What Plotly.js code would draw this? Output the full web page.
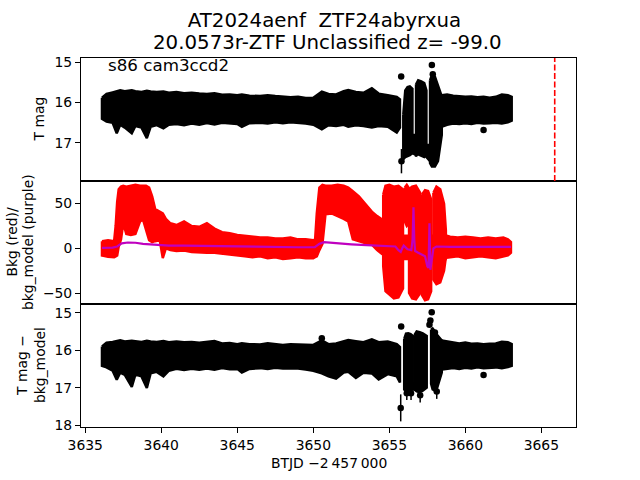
<!DOCTYPE html>
<html>
<head>
<meta charset="utf-8">
<script src="https://cdn.plot.ly/plotly-3.0.1.min.js"></script>
<style>html,body{margin:0;padding:0;background:#fff;}</style>
</head>
<body>
<div id="chart" style="width:640px;height:480px;"></div>
<script>
// ---------- DATA ----------
// Time grid (BTJD - 2457000) of the first calm stretch of the light curve
const bandT = [3636.1, 3636.4, 3636.8, 3637.07, 3637.3, 3637.6, 3638.06, 3638.3, 3638.7, 3639.05, 3639.3, 3639.7, 3640.14, 3640.5, 3641.0, 3641.5, 3642.0, 3642.5, 3643.0, 3643.5, 3644.0, 3644.5, 3645.0, 3645.3, 3645.8, 3646.5, 3647.0, 3647.5, 3648.0, 3648.5, 3649.0, 3649.5, 3650.0, 3650.56, 3651.0, 3651.5, 3652.0, 3652.3, 3652.8, 3653.3, 3653.85, 3654.3, 3654.9, 3655.49, 3655.7];
// Panel 1: T mag band edges (bright edge / faint edge)
const p1Top = [15.88, 15.79, 15.75, 15.72, 15.70, 15.72, 15.70, 15.72, 15.74, 15.71, 15.73, 15.74, 15.73, 15.76, 15.74, 15.77, 15.76, 15.78, 15.79, 15.77, 15.81, 15.80, 15.82, 15.80, 15.83, 15.84, 15.82, 15.84, 15.86, 15.87, 15.86, 15.89, 15.88, 15.73, 15.79, 15.80, 15.72, 15.69, 15.74, 15.76, 15.65, 15.78, 15.82, 15.86, 15.92];
const p1Bot = [16.40, 16.47, 16.50, 16.76, 16.55, 16.62, 16.76, 16.58, 16.62, 16.88, 16.60, 16.56, 16.64, 16.55, 16.53, 16.56, 16.52, 16.55, 16.51, 16.54, 16.50, 16.52, 16.53, 16.60, 16.51, 16.50, 16.52, 16.49, 16.51, 16.49, 16.50, 16.52, 16.55, 16.66, 16.56, 16.58, 16.55, 16.60, 16.56, 16.58, 16.62, 16.58, 16.60, 16.74, 16.62];
// Panel 3: T mag - bkg_model band edges
const p3Top = [15.90, 15.80, 15.78, 15.76, 15.74, 15.77, 15.75, 15.76, 15.78, 15.75, 15.77, 15.78, 15.76, 15.79, 15.77, 15.79, 15.78, 15.80, 15.79, 15.76, 15.82, 15.81, 15.84, 15.82, 15.84, 15.85, 15.82, 15.84, 15.86, 15.84, 15.85, 15.87, 15.86, 15.74, 15.84, 15.82, 15.76, 15.73, 15.76, 15.79, 15.71, 15.79, 15.77, 15.84, 15.92];
const p3Bot = [16.42, 16.46, 16.55, 16.79, 16.60, 16.66, 16.98, 16.65, 16.70, 17.01, 16.62, 16.58, 16.70, 16.55, 16.50, 16.53, 16.50, 16.52, 16.49, 16.52, 16.48, 16.51, 16.50, 16.60, 16.50, 16.48, 16.50, 16.47, 16.49, 16.48, 16.49, 16.52, 16.55, 16.62, 16.70, 16.76, 16.60, 16.58, 16.74, 16.60, 16.62, 16.78, 16.64, 16.70, 16.86];

// Second calm stretch (after the disturbed interval)
const bandBT = [3658.45, 3658.8, 3659.2, 3659.6, 3660.0, 3660.4, 3660.8, 3661.2, 3661.6, 3662.0, 3662.4, 3662.8, 3663.05];
const p1TopB = [15.82, 15.80, 15.83, 15.84, 15.86, 15.85, 15.87, 15.86, 15.88, 15.86, 15.80, 15.82, 15.86];
const p1BotB = [16.60, 16.55, 16.52, 16.53, 16.51, 16.53, 16.50, 16.52, 16.51, 16.50, 16.52, 16.49, 16.45];
const p3TopB = [15.74, 15.76, 15.80, 15.82, 15.80, 15.83, 15.82, 15.84, 15.83, 15.82, 15.78, 15.79, 15.84];
const p3BotB = [16.52, 16.50, 16.48, 16.50, 16.47, 16.49, 16.46, 16.48, 16.47, 16.46, 16.48, 16.45, 16.42];

// Disturbed interval, panel 1 (strips of points)
const p1StripT   = [[3655.92, 3656.05, 3656.2, 3656.35, 3656.52], [3656.52, 3656.76], [3656.76, 3656.9, 3657.1, 3657.3, 3657.44], [3657.44, 3657.68], [3657.68, 3657.8, 3658.0, 3658.2, 3658.45]];
const p1StripTop = [[16.3, 15.7, 15.62, 15.6, 15.66], [16.8, 16.8], [15.55, 15.45, 15.48, 15.52, 15.7], [17.05, 17.05], [15.45, 15.33, 15.36, 15.6, 15.85]];
const p1StripBot = [[17.4, 17.35, 17.32, 17.3, 17.25], [17.25, 17.3], [17.3, 17.28, 17.32, 17.35, 17.3], [17.35, 17.45], [17.5, 17.58, 17.58, 17.45, 16.8]];
const p1PtT = [3655.78, 3657.8, 3657.86, 3661.2];
const p1PtM = [15.36, 15.07, 15.3, 16.68];
const p1ErrT = [3655.8];
const p1ErrM = [17.45];
const p1ErrE = [0.3];

// Disturbed interval, panel 3
const p3StripT   = [[3655.98, 3656.1, 3656.25, 3656.4, 3656.54], [3656.54, 3656.65], [3656.65, 3656.8, 3657.0, 3657.2, 3657.46], [3657.75, 3657.85, 3658.0, 3658.15, 3658.45]];
const p3StripTop = [[15.7, 15.56, 15.55, 15.57, 15.62], [16.9, 16.9], [15.6, 15.5, 15.52, 15.55, 15.62], [15.45, 15.42, 15.5, 15.6, 15.74]];
const p3StripBot = [[17.05, 17.1, 17.08, 17.1, 17.0], [17.05, 17.05], [17.05, 17.1, 17.12, 17.08, 17.0], [16.9, 17.05, 17.08, 17.0, 16.6]];
const p3PtT = [3655.78, 3657.79, 3657.64, 3657.7, 3658.0, 3661.2, 3650.56];
const p3PtM = [15.37, 14.99, 15.32, 15.21, 15.53, 16.66, 15.68];
const p3ErrT = [3655.75, 3656.15, 3656.43, 3657.03, 3658.12];
const p3ErrM = [17.54, 17.15, 17.15, 17.2, 17.1];
const p3ErrE = [0.36, 0.18, 0.18, 0.2, 0.2];

// Panel 2: background flux (red) envelope
const bkgT   = [3636.1, 3636.5, 3636.9, 3637.0, 3637.1, 3637.2, 3637.35, 3637.5, 3637.7, 3638.0, 3638.3, 3638.6, 3638.8, 3639.0, 3639.2, 3639.4, 3639.6, 3639.9, 3640.1, 3640.3, 3640.6, 3641.0, 3641.5, 3642.0, 3642.5, 3643.0, 3643.5, 3644.0, 3644.5, 3645.0, 3645.5, 3646.0, 3646.5, 3647.0, 3647.5, 3648.0, 3648.5, 3649.0, 3649.5, 3650.0, 3650.12, 3650.23, 3650.4, 3650.6, 3650.8, 3651.2, 3651.6, 3652.0, 3652.3, 3652.6, 3653.0, 3653.4, 3653.85, 3654.2, 3654.5, 3654.7];
const bkgTop = [8, 9, 8, 25, 52, 66, 69, 70, 69, 70, 71, 70, 70, 70, 68, 58, 44, 41, 39, 33, 28, 26, 30, 25, 24, 28, 22, 18, 17, 15, 14, 13, 12, 12, 11, 11, 12, 10, 10, 9, 10, 39, 68, 71, 70, 70, 71, 70, 68, 64, 58, 50, 41, 36, 32, 30];
const bkgBot = [-8, -9.5, -10, -9, -8, 2, 10, 28, 16, 15, 16, 30, 32, 20, 9, 7, 8, 9, -11, 0, -2, -3, -2.5, -4, -4.5, -5, -5, -6, -7.5, -8, -9, -10, -9, -11, -10, -12, -11, -10, -11, -11, -10, -9, -2, 5, 38, 39, 36, 33, 30, 10, 8, 6, 4, -2, -6, -4];
// disturbed interval strips of the background
const bkgStripT   = [[3654.6, 3654.75, 3655.0, 3655.3, 3655.6, 3655.9], [3656.02, 3656.15, 3656.3], [3656.3, 3656.5, 3656.75, 3657.03], [3657.14, 3657.35, 3657.55, 3657.75], [3657.9, 3658.1, 3658.35, 3658.6, 3658.72], [3654.6, 3658.7]];
const bkgStripTop = [[60, 70, 71, 69, 70, 66], [68, 71, 67], [66, 69, 70, 62], [60, 65, 64, 55], [62, 69, 66, 50, 20], [14, 14]];
const bkgStripBot = [[-20, -48, -52, -56, -55, -45], [30, 25, 28], [-50, -56, -57, -50], [-52, -58, -57, -48], [-35, -40, -38, -25, -10], [-12, -12]];
const bkgBT   = [3658.6, 3659.0, 3659.5, 3660.0, 3660.5, 3661.0, 3661.5, 3662.0, 3662.5, 3662.8, 3663.0];
const bkgBTop = [15, 13, 12, 13, 12, 11, 12, 11, 12, 10, 7];
const bkgBBot = [-11, -10, -9, -11, -10, -9, -10, -11, -9, -8, -5];

// Panel 2: background model (purple)
const modelT = [3636.1, 3636.8, 3637.1, 3637.4, 3637.8, 3638.3, 3638.8, 3639.5, 3640.5, 3641.5, 3643.0, 3645.0, 3647.0, 3649.0, 3650.1, 3650.4, 3650.7, 3651.5, 3652.5, 3653.5, 3654.5, 3655.0, 3655.4, 3655.6, 3655.75, 3655.85, 3655.95, 3656.2, 3656.45, 3656.53, 3656.59, 3656.64, 3656.7, 3656.9, 3657.1, 3657.35, 3657.5, 3657.58, 3657.64, 3657.7, 3657.78, 3657.9, 3658.1, 3658.5, 3659.0, 3661.0, 3663.0];
const modelV = [0.5, 0.8, 2, 5.5, 6.5, 6.2, 5, 4, 3, 3, 2.5, 2, 1.5, 1.2, 1.2, 5, 6.8, 5.5, 4.5, 3.5, 3, 2.5, 2, -2, -4, 0, 3, -1, -2, 10, 46, 10, -3, -5, -7, -9, -20, -22, 28, -24, -15, 0, 2, 1.5, 1.5, 1.5, 1.5];

// Vertical marker (dashed red line)
const markT = [3665.88];

// Text
const titleLine1 = "AT2024aenf\u00a0 ZTF24abyrxua";
const titleLine2 = "20.0573r-ZTF Unclassified z= -99.0";
const xTicks = [3635, 3640, 3645, 3650, 3655, 3660, 3665];

// ---------- BUILD ----------
function polys(listT, listTop, listBot) {
  const x = [], y = [];
  for (let i = 0; i < listT.length; i++) {
    const t = listT[i], a = listTop[i], b = listBot[i];
    for (let j = 0; j < t.length; j++) { x.push(t[j]); y.push(a[j]); }
    for (let j = t.length - 1; j >= 0; j--) { x.push(t[j]); y.push(b[j]); }
    x.push(t[0]); y.push(a[0]);
    x.push(null); y.push(null);
  }
  return {x, y};
}
function fillTrace(p, color, xa, ya) {
  return {x: p.x, y: p.y, type: 'scatter', mode: 'lines', fill: 'toself', fillcolor: color,
    line: {color: color, width: 2.5}, connectgaps: false, xaxis: xa, yaxis: ya, hoverinfo: 'skip'};
}
const black = '#000000', red = '#ff0000', purple = '#bf00bf';

const p1Poly = polys([bandT, bandBT].concat(p1StripT), [p1Top, p1TopB].concat(p1StripTop), [p1Bot, p1BotB].concat(p1StripBot));
const p3Poly = polys([bandT, bandBT].concat(p3StripT), [p3Top, p3TopB].concat(p3StripTop), [p3Bot, p3BotB].concat(p3StripBot));
const bkgPoly = polys([bkgT, bkgBT].concat(bkgStripT), [bkgTop, bkgBTop].concat(bkgStripTop), [bkgBot, bkgBBot].concat(bkgStripBot));

const traces = [
  fillTrace(p1Poly, black, 'x', 'y'),
  {x: p1PtT, y: p1PtM, type: 'scatter', mode: 'markers', marker: {color: black, size: 6.5}, xaxis: 'x', yaxis: 'y'},
  {x: p1ErrT, y: p1ErrM, type: 'scatter', mode: 'markers', marker: {color: black, size: 6.5},
   error_y: {type: 'data', array: p1ErrE, color: black, thickness: 1.5, width: 0}, xaxis: 'x', yaxis: 'y'},
  fillTrace(bkgPoly, red, 'x2', 'y2'),
  {x: modelT, y: modelV, type: 'scatter', mode: 'lines', line: {color: purple, width: 2.2}, xaxis: 'x2', yaxis: 'y2'},
  fillTrace(p3Poly, black, 'x3', 'y3'),
  {x: p3PtT, y: p3PtM, type: 'scatter', mode: 'markers', marker: {color: black, size: 6.5}, xaxis: 'x3', yaxis: 'y3'},
  {x: p3ErrT, y: p3ErrM, type: 'scatter', mode: 'markers', marker: {color: black, size: 6.5},
   error_y: {type: 'data', array: p3ErrE, color: black, thickness: 1.5, width: 0}, xaxis: 'x3', yaxis: 'y3'}
];

const xr = [3634.72, 3667.28];
const axBase = {showline: true, mirror: true, linecolor: 'black', linewidth: 1, showgrid: false, zeroline: false,
  ticks: 'outside', ticklen: 5, tickwidth: 1, tickcolor: 'black', tickfont: {family: 'DejaVu Sans', size: 13.9, color: 'black'}};
const noTickX = Object.assign({}, axBase, {range: xr, ticks: '', showticklabels: false});

const layout = {
  width: 640, height: 480,
  margin: {l: 81, r: 64, t: 58, b: 53, pad: 0},
  paper_bgcolor: 'white', plot_bgcolor: 'white',
  font: {family: 'DejaVu Sans', size: 13.9, color: 'black'},
  showlegend: false,
  title: {text: titleLine1, x: (324.4 - 81) / 495, xref: 'paper', xanchor: 'center', y: 1 - 20.5 / 480, yref: 'container', yanchor: 'middle',
          font: {family: 'DejaVu Sans', size: 19.8, color: 'black'}},
  xaxis: Object.assign({}, noTickX, {anchor: 'y', domain: [0, 1]}),
  yaxis: Object.assign({}, axBase, {anchor: 'x', domain: [2/3, 1], range: [17.94, 14.9], tickvals: [15, 16, 17]}),
  xaxis2: Object.assign({}, noTickX, {anchor: 'y2', domain: [0, 1]}),
  yaxis2: Object.assign({}, axBase, {anchor: 'x2', domain: [1/3, 2/3], range: [-62.3, 75.3], tickvals: [-50, 0, 50]}),
  xaxis3: Object.assign({}, axBase, {anchor: 'y3', domain: [0, 1], range: xr, tickvals: xTicks}),
  yaxis3: Object.assign({}, axBase, {anchor: 'x3', domain: [0, 1/3], range: [18.05, 14.77], tickvals: [15, 16, 17, 18]}),
  shapes: [
    {type: 'line', xref: 'x', yref: 'y domain', x0: markT[0], x1: markT[0], y0: 0, y1: 1,
     line: {color: red, width: 1.6, dash: '6px,2.5px'}}
  ],
  annotations: [
    {text: titleLine2, xref: 'paper', yref: 'paper', x: (327.7 - 81) / 495, y: 1 + (58 - 42.5) / 369, xanchor: 'center', yanchor: 'middle',
     showarrow: false, font: {size: 19.8}},
    {text: 's86 cam3ccd2', xref: 'paper', yref: 'paper', x: 0.05, y: 1 - 7/369, xanchor: 'left', yanchor: 'middle',
     showarrow: false, font: {size: 16.7}},
    {text: 'T mag', xref: 'paper', yref: 'paper', x: (39 - 81)/495, y: 1 - 61.5/369, textangle: -90,
     xanchor: 'center', yanchor: 'middle', showarrow: false, font: {size: 13.9}},
    {text: 'Bkg (red)/', xref: 'paper', yref: 'paper', x: (11 - 81)/495, y: 0.5, textangle: -90,
     xanchor: 'center', yanchor: 'middle', showarrow: false, font: {size: 13.9}},
    {text: 'bkg_model (purple)', xref: 'paper', yref: 'paper', x: (27.5 - 81)/495, y: 0.5, textangle: -90,
     xanchor: 'center', yanchor: 'middle', showarrow: false, font: {size: 13.9}},
    {text: 'T mag \u2212', xref: 'paper', yref: 'paper', x: (21.5 - 81)/495, y: 61.5/369, textangle: -90,
     xanchor: 'center', yanchor: 'middle', showarrow: false, font: {size: 13.9}},
    {text: 'bkg_model', xref: 'paper', yref: 'paper', x: (39.5 - 81)/495, y: 61.5/369, textangle: -90,
     xanchor: 'center', yanchor: 'middle', showarrow: false, font: {size: 13.9}},
    {text: 'BTJD \u22122\u2009457\u2009000', xref: 'paper', yref: 'paper', x: 0.5, y: -(463 - 427)/369,
     xanchor: 'center', yanchor: 'middle', showarrow: false, font: {size: 13.9}}
  ]
};

Plotly.newPlot('chart', traces, layout, {displayModeBar: false, staticPlot: true});
</script>
</body>
</html>
